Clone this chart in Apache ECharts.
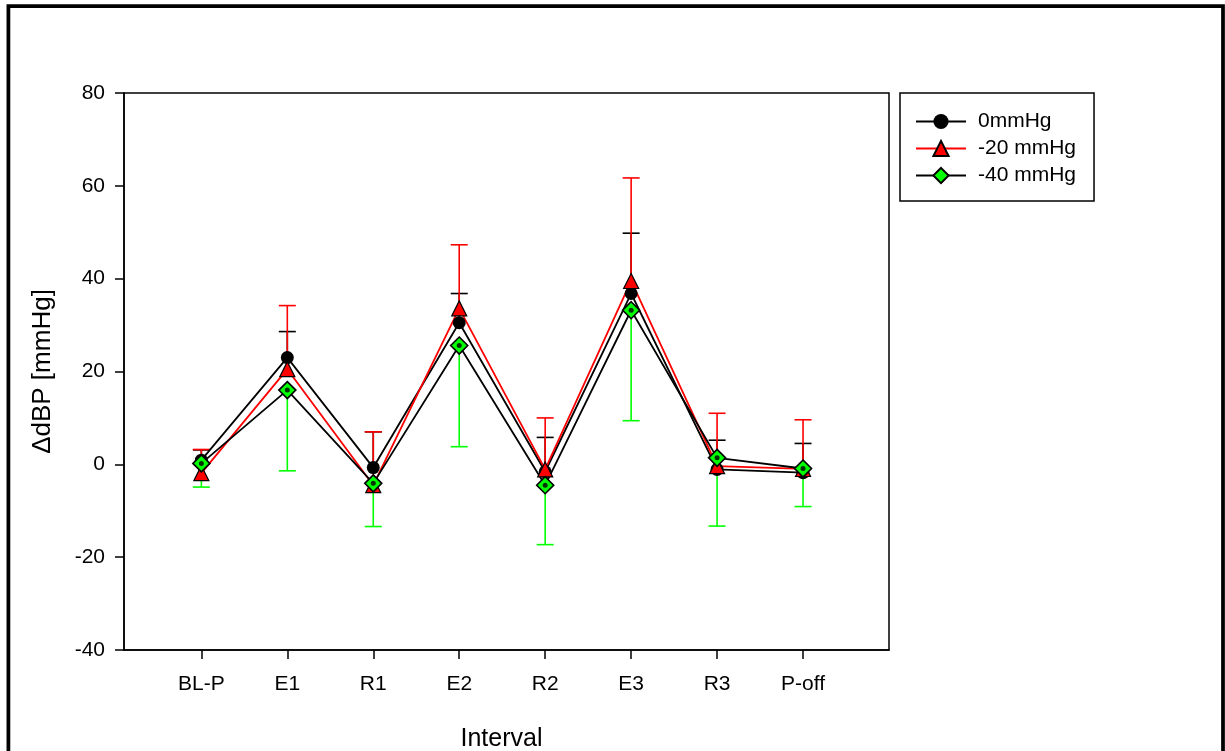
<!DOCTYPE html>
<html>
<head>
<meta charset="utf-8">
<script src="https://cdn.jsdelivr.net/npm/echarts@6/dist/echarts.min.js"></script>
<style>
  html, body { margin: 0; padding: 0; background: #fff; }
  #chart { width: 1225px; height: 751px; }
</style>
</head>
<body>
<div id="chart"></div>
<script>
// Intervals along the protocol
const categories = ['BL-P', 'E1', 'R1', 'E2', 'R2', 'E3', 'R3', 'P-off'];

// Change in diastolic blood pressure (mmHg), mean per interval
const mean0 = [0.9, 23.0, -0.7, 30.5, -1.6, 36.8, -1.1, -1.8];
const mean20 = [-1.9, 20.5, -4.5, 33.6, -1.1, 39.5, -0.4, -1.0];
const mean40 = [0.2, 16.0, -4.1, 25.6, -4.5, 33.2, 1.4, -0.9];

// Error bar lengths (0 and -20 drawn upward, -40 drawn downward)
const err0 = [2.2, 5.6, 7.7, 6.3, 7.4, 13.0, 6.3, 6.3];
const err20 = [5.1, 13.7, 11.5, 13.7, 11.1, 22.2, 11.4, 10.6];
const err40 = [5.1, 17.4, 9.3, 21.8, 12.8, 23.8, 14.7, 8.2];

const yTicks = [-40, -20, 0, 20, 40, 60, 80];

const FONT = "'Liberation Sans', Arial, sans-serif";
const GREEN = '#00ff00';
const RED = '#ff0000';
const positions = categories.map((c, i) => i + 1);

function points(values) {
  return values.map((v, i) => [positions[i], v]);
}

function errorBars(name, means, errs, dir, color) {
  return {
    type: 'custom',
    name: name,
    z: 1,
    silent: true,
    clip: false,
    encode: { x: 0, y: 1 },
    data: means.map((m, i) => [positions[i], m, errs[i]]),
    renderItem: function (params, api) {
      const x = api.value(0);
      const m = api.value(1);
      const e = api.value(2);
      const p0 = api.coord([x, m]);
      const p1 = api.coord([x, m + dir * e]);
      const style = { stroke: color, lineWidth: 1.6 };
      return {
        type: 'group',
        children: [
          { type: 'line', shape: { x1: p0[0], y1: p0[1], x2: p1[0], y2: p1[1] }, style: style },
          { type: 'line', shape: { x1: p1[0] - 8.5, y1: p1[1], x2: p1[0] + 8.5, y2: p1[1] }, style: style }
        ]
      };
    }
  };
}

const chart = echarts.init(document.getElementById('chart'), null, { renderer: 'canvas' });

chart.setOption({
  animation: false,
  backgroundColor: '#fff',
  textStyle: { fontFamily: FONT, color: '#000' },
  graphic: [{
    type: 'rect',
    shape: { x: 8.4, y: 6, width: 1214.6, height: 800 },
    style: { fill: 'none', stroke: '#000', lineWidth: 3.75 },
    silent: true
  }],
  grid: {
    left: 124, right: 336, top: 93, bottom: 101,
    outerBoundsMode: 'none',
    containLabel: false,
    show: true, borderColor: '#000', borderWidth: 1.5
  },
  legend: {
    data: ['0mmHg', '-20 mmHg', '-40 mmHg'],
    orient: 'vertical',
    left: 900, top: 93,
    padding: [15, 18, 12, 15],
    borderColor: '#000', borderWidth: 1.5,
    itemWidth: 50, itemHeight: 19, itemGap: 0,
    selectedMode: false,
    textStyle: { fontFamily: FONT, fontSize: 21, color: '#000', lineHeight: 27, padding: [0, 0, 0, 7] }
  },
  xAxis: {
    type: 'value',
    min: 0.1, max: 9,
    name: 'Interval',
    nameLocation: 'middle',
    nameGap: 77,
    nameTextStyle: { fontFamily: FONT, fontSize: 25, color: '#000', padding: [0, 10, 0, 0] },
    splitLine: { show: false },
    axisLine: { show: true, onZero: false, lineStyle: { color: '#000', width: 1.5 } },
    axisTick: { show: true, inside: false, length: 9, lineStyle: { color: '#000', width: 1.5 }, customValues: positions },
    axisLabel: {
      fontFamily: FONT, fontSize: 21, color: '#000', margin: 24,
      customValues: positions,
      formatter: v => categories[Math.round(v) - 1] || ''
    }
  },
  yAxis: {
    type: 'value',
    min: yTicks[0], max: yTicks[yTicks.length - 1], interval: 20,
    name: 'ΔdBP [mmHg]',
    nameLocation: 'middle',
    nameGap: 68,
    nameTextStyle: { fontFamily: FONT, fontSize: 26, color: '#000' },
    splitLine: { show: false },
    axisLine: { show: true, onZero: false, lineStyle: { color: '#000', width: 1.5 } },
    axisTick: { show: true, inside: false, length: 9, lineStyle: { color: '#000', width: 1.5 } },
    axisLabel: { fontFamily: FONT, fontSize: 21, color: '#000', margin: 19 }
  },
  series: [
    errorBars('err0', mean0, err0, 1, '#000'),
    errorBars('err20', mean20, err20, 1, RED),
    errorBars('err40', mean40, err40, -1, GREEN),
    {
      type: 'line', name: '0mmHg', z: 3,
      data: points(mean0),
      symbol: 'circle', symbolSize: 13,
      lineStyle: { color: '#000', width: 1.8 },
      itemStyle: { color: '#000' },
      emphasis: { disabled: true }
    },
    {
      type: 'line', name: '-20 mmHg', z: 3,
      data: points(mean20),
      symbol: 'triangle', symbolSize: 15,
      lineStyle: { color: RED, width: 1.8 },
      itemStyle: { color: RED, borderColor: '#000', borderWidth: 1.2 },
      emphasis: { disabled: true }
    },
    {
      type: 'line', name: '-40 mmHg', z: 3,
      data: points(mean40),
      symbol: 'diamond', symbolSize: 17,
      lineStyle: { color: '#000', width: 1.8 },
      itemStyle: { color: GREEN, borderColor: '#000', borderWidth: 1.6 },
      emphasis: { disabled: true }
    },
    {
      type: 'scatter', name: 'center40', z: 4, silent: true,
      data: points(mean40),
      symbol: 'circle', symbolSize: 5,
      itemStyle: { color: '#000' }
    }
  ]
});
</script>
</body>
</html>
